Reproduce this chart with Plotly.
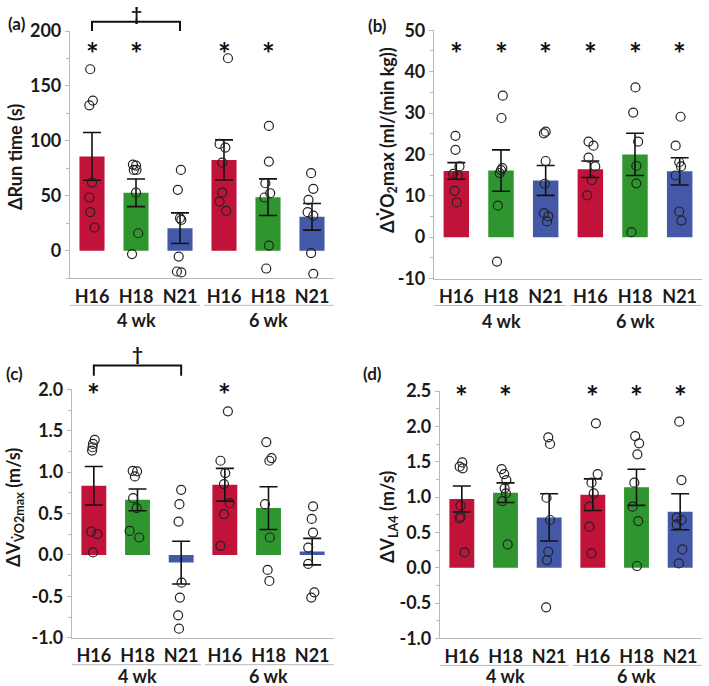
import plotly.graph_objects as go

W, H = 709, 686

# ---------------- data ----------------
categories = ["H16", "H18", "N21", "H16", "H18", "N21"]
week_groups = ["4 wk", "6 wk"]
bar_colors = ["#C1123A", "#2F962F", "#4458A8", "#C1123A", "#2F962F", "#4458A8"]

# (a) delta run time (s)
run_mean = [85.9, 52.8, 20.6, 82.7, 48.8, 30.9]
run_se = [21.7, 12.6, 13.9, 18.2, 16.7, 12.1]
run_points = [
    [165.2, 136.7, 132.4, 62.1, 48.5, 35.2, 21.2],
    [78.5, 77.6, 73.6, 73.6, 53.0, 16.0, -3.0],
    [73.6, 55.5, 29.7, 28.2, -5.2, -18.8, -19.7],
    [175.2, 97.3, 93.9, 80.3, 53.0, 44.8, 36.4],
    [113.6, 81.2, 61.5, 52.4, 48.5, 4.8, -16.1],
    [70.6, 56.4, 46.4, 35.2, 32.1, -2.1, -20.9],
]
run_jitter = [
    [-0.04, 0.02, -0.06, 0.0, -0.06, -0.04, 0.06],
    [-0.07, 0.0, -0.05, 0.01, 0.0, 0.05, -0.09],
    [0.02, -0.05, 0.0, 0.03, -0.03, -0.07, 0.03],
    [0.09, -0.10, 0.03, -0.04, -0.04, -0.10, 0.05],
    [0.02, 0.02, -0.06, 0.05, -0.08, 0.02, -0.04],
    [-0.02, 0.03, -0.08, -0.10, 0.03, -0.02, 0.03],
]
run_sig = [True, True, False, True, True, False]
run_ticks = [0, 50, 100, 150, 200]
run_ticktext = ["0", "50", "100", "150", "200"]

# (b) delta VO2max (ml/(min kg))
vo2_mean = [16.0, 16.1, 13.7, 16.4, 20.0, 15.9]
vo2_se = [2.0, 5.0, 3.6, 2.0, 5.1, 3.3]
vo2_points = [
    [24.5, 21.1, 17.1, 15.3, 14.9, 11.2, 8.4],
    [34.2, 28.8, 16.7, 16.2, 15.5, 7.6, -5.9],
    [25.5, 25.1, 18.4, 12.9, 5.8, 5.0, 3.8],
    [23.1, 22.1, 19.2, 17.1, 13.8, 10.1],
    [36.2, 30.1, 23.1, 17.2, 13.0, 1.2],
    [29.1, 22.1, 18.1, 17.1, 14.9, 6.2, 4.0],
]
vo2_jitter = [
    [-0.02, -0.02, 0.07, -0.07, 0.03, -0.04, 0.01],
    [0.04, 0.01, 0.03, 0.0, -0.03, -0.07, -0.09],
    [0.0, -0.04, 0.0, -0.02, -0.04, 0.06, 0.03],
    [-0.04, 0.07, -0.04, 0.11, 0.03, -0.07],
    [0.01, -0.04, 0.07, 0.03, 0.03, -0.08],
    [0.02, -0.09, -0.01, 0.03, -0.09, -0.01, 0.04],
]
vo2_sig = [True, True, True, True, True, True]
vo2_ticks = [-10, 0, 10, 20, 30, 40, 50]
vo2_ticktext = ["-10", "0", "10", "20", "30", "40", "50"]

# (c) delta V at VO2max (m/s)
vv_mean = [0.835, 0.665, -0.093, 0.847, 0.565, 0.04]
vv_se = [0.232, 0.131, 0.258, 0.198, 0.258, 0.16]
vv_points = [
    [1.39, 1.34, 1.30, 1.26, 0.28, 0.25, 0.03],
    [1.016, 1.008, 0.948, 0.685, 0.565, 0.29, 0.21],
    [0.786, 0.613, 0.403, -0.335, -0.516, -0.73, -0.891],
    [1.734, 1.137, 0.988, 0.855, 0.625, 0.492, 0.109],
    [1.363, 1.169, 1.137, 0.613, 0.21, -0.181, -0.315],
    [0.585, 0.435, 0.27, 0.089, -0.109, -0.452, -0.516],
]
vv_jitter = [
    [0.02, -0.02, -0.03, -0.04, -0.06, 0.08, -0.02],
    [-0.11, -0.01, -0.06, -0.10, -0.02, -0.18, 0.04],
    [0.0, -0.04, -0.06, 0.01, -0.03, -0.07, -0.05],
    [0.07, -0.10, 0.01, -0.02, 0.11, -0.02, -0.10],
    [-0.05, 0.07, 0.02, -0.08, 0.03, -0.02, 0.02],
    [0.02, -0.01, 0.02, -0.09, -0.09, 0.05, -0.02],
]
vv_sig = [True, False, False, True, False, False]
vv_ticks = [-1.0, -0.5, 0.0, 0.5, 1.0, 1.5, 2.0]
vv_ticktext = ["-1.0", "-0.5", "0.0", "0.5", "1.0", "1.5", "2.0"]

# (d) delta V at LA4 (m/s)
la_mean = [0.972, 1.061, 0.712, 1.033, 1.137, 0.792]
la_se = [0.184, 0.139, 0.335, 0.224, 0.255, 0.255]
la_points = [
    [1.49, 1.43, 1.406, 0.877, 0.722, 0.70, 0.217],
    [1.396, 1.325, 1.24, 1.123, 1.052, 0.943, 0.33],
    [1.844, 1.75, 0.99, 0.675, 0.226, 0.108, -0.561],
    [2.042, 1.325, 1.203, 1.052, 0.863, 0.58, 0.203],
    [1.863, 1.76, 1.604, 1.203, 0.863, 0.66, 0.024],
    [2.066, 1.24, 0.708, 0.675, 0.613, 0.259, 0.061],
]
la_jitter = [
    [0.01, -0.05, 0.02, -0.03, -0.03, -0.05, 0.06],
    [-0.09, -0.03, 0.02, -0.02, 0.01, -0.07, 0.05],
    [-0.02, 0.02, -0.06, 0.02, -0.02, -0.05, -0.07],
    [0.07, 0.11, -0.03, 0.02, -0.08, -0.08, -0.03],
    [-0.03, 0.06, 0.02, -0.05, -0.09, 0.04, 0.01],
    [-0.02, 0.03, -0.08, 0.03, -0.08, 0.05, -0.03],
]
la_sig = [True, True, False, True, True, True]
la_ticks = [-1.0, -0.5, 0.0, 0.5, 1.0, 1.5, 2.0, 2.5]
la_ticktext = ["-1.0", "-0.5", "0.0", "0.5", "1.0", "1.5", "2.0", "2.5"]

# ---------------- layout config ----------------
FONT = "Lato"
TXT = "#1a1a1a"
AXC = "#b8b8b8"
FS = 18

panels = [
    dict(n="", box=(70, 334, 31, 278.3), rng=[-25, 200], minor=25,
         mean=run_mean, se=run_se, pts=run_points, jit=run_jitter, sig=run_sig,
         tv=run_ticks, tt=run_ticktext, star=184.8, grp_off=42,
         title="ΔRun time (s)", title_xy=(15, 157), label="(a)", label_xy=(17, 24),
         bracket=(208.5, 200, 219.5)),
    dict(n="2", box=(434, 702, 30.3, 278.5), rng=[-10, 50], minor=5,
         mean=vo2_mean, se=vo2_se, pts=vo2_points, jit=vo2_jitter, sig=vo2_sig,
         tv=vo2_ticks, tt=vo2_ticktext, star=45.8, grp_off=42,
         title="ΔV\u0307O<sub>2</sub>max (ml/(min kg))", title_xy=(387, 140),
         label="(b)", label_xy=(378, 25), bracket=None),
    dict(n="3", box=(72, 334, 389.3, 637.7), rng=[-1.0, 2.0], minor=0.25,
         mean=vv_mean, se=vv_se, pts=vv_points, jit=vv_jitter, sig=vv_sig,
         tv=vv_ticks, tt=vv_ticktext, star=2.0, grp_off=38,
         title="ΔV<sub>V\u0307O2max</sub> (m/s)", title_xy=(14, 508),
         label="(c)", label_xy=(15, 373), bracket=(2.286, 2.165, 2.46)),
    dict(n="4", box=(440, 702, 391, 638.4), rng=[-1.0, 2.5], minor=0.25,
         mean=la_mean, se=la_se, pts=la_points, jit=la_jitter, sig=la_sig,
         tv=la_ticks, tt=la_ticktext, star=2.5, grp_off=38,
         title="ΔV<sub>LA4</sub> (m/s)", title_xy=(388, 517),
         label="(d)", label_xy=(372, 373), bracket=None),
]

fig = go.Figure()
shapes = []
annotations = []
layout = dict(
    width=W, height=H, margin=dict(l=0, r=0, t=0, b=0, autoexpand=False),
    paper_bgcolor="white", plot_bgcolor="white", showlegend=False,
)


def paper_x(p, xv):
    x0, x1, _, _ = p["box"]
    px = x0 + (xv + 0.5) / 6.0 * (x1 - x0)
    return px / W


def paper_y(p, v):
    _, _, y0, y1 = p["box"]
    r0, r1 = p["rng"]
    px = y1 - (v - r0) / (r1 - r0) * (y1 - y0)
    return 1 - px / H


def ann(**kw):
    kw.setdefault("showarrow", False)
    kw.setdefault("xanchor", "center")
    kw.setdefault("yanchor", "middle")
    annotations.append(kw)


for p in panels:
    n = p["n"]
    xa, ya = "x" + n, "y" + n
    x0, x1, y0, y1 = p["box"]
    fig.add_trace(go.Bar(
        x=list(range(6)), y=p["mean"], width=0.57,
        marker=dict(color=bar_colors, line=dict(width=0)),
        error_y=dict(type="data", array=p["se"], visible=True,
                     color="#111111", thickness=1.6, width=9),
        xaxis=xa, yaxis=ya, hoverinfo="skip",
    ))
    xs, ys = [], []
    for i, (vals, jit) in enumerate(zip(p["pts"], p["jit"])):
        for v, j in zip(vals, jit):
            xs.append(i + j)
            ys.append(v)
    fig.add_trace(go.Scatter(
        x=xs, y=ys, mode="markers",
        marker=dict(symbol="circle-open", size=9, color="#222222",
                    line=dict(width=1.2, color="#222222")),
        xaxis=xa, yaxis=ya, cliponaxis=False, hoverinfo="skip",
    ))
    # significance asterisks
    for i, s in enumerate(p["sig"]):
        if s:
            ann(x=i, y=p["star"], xref=xa, yref=ya, text="<b>*</b>",
                font=dict(family=FONT, size=30, color="#111"), yshift=-5)
    # axes
    layout["xaxis" + n] = dict(
        domain=[x0 / W, x1 / W], anchor=ya, range=[-0.5, 5.5],
        tickvals=list(range(6)), ticktext=categories, ticks="",
        ticklabelstandoff=2,
        showline=True, linecolor=AXC, linewidth=1.2, showgrid=False,
        zeroline=False, fixedrange=True, automargin=False,
        tickfont=dict(family=FONT, size=FS, color=TXT, weight="bold"),
    )
    layout["yaxis" + n] = dict(
        domain=[1 - y1 / H, 1 - y0 / H], anchor=xa, range=p["rng"],
        tickvals=p["tv"], ticktext=p["tt"], ticks="outside", ticklen=4,
        tickcolor=AXC, tickwidth=1,
        minor=dict(ticks="outside", ticklen=3, tickcolor=AXC, dtick=p["minor"],
                   tick0=0, showgrid=False),
        showline=True, linecolor=AXC, linewidth=1.2, showgrid=False,
        zeroline=False, fixedrange=True, automargin=False,
        tickfont=dict(family=FONT, size=FS, color=TXT, weight="bold"),
    )
    # axis title
    tx, ty = p["title_xy"]
    ann(x=tx / W, y=1 - ty / H, xref="paper", yref="paper", text=p["title"],
        textangle=-90, font=dict(family=FONT, size=FS, color=TXT, weight="bold"))
    # panel label
    lx, ly = p["label_xy"]
    ann(x=lx / W, y=1 - ly / H, xref="paper", yref="paper", text=p["label"],
        font=dict(family=FONT, size=17, color=TXT, weight="bold"))
    # week group separators and labels
    yb = 1 - (y1 + 27) / H
    for g, (a, b) in enumerate([(-0.5, 2.45), (2.55, 5.5)]):
        shapes.append(dict(type="line", xref="paper", yref="paper",
                           x0=paper_x(p, a), x1=paper_x(p, b), y0=yb, y1=yb,
                           line=dict(color=AXC, width=1)))
        ann(x=1 + 3 * g, y=1 - (y1 + p["grp_off"]) / H, xref=xa, yref="paper",
            text=week_groups[g],
            font=dict(family=FONT, size=FS, color=TXT, weight="bold"))
    # bracket with dagger
    if p["bracket"]:
        top, leg, dag = p["bracket"]
        xl, xr = paper_x(p, 0), paper_x(p, 2)
        yt, yl = paper_y(p, top), paper_y(p, leg)
        shapes.append(dict(type="path", xref="paper", yref="paper",
                           path=f"M{xl},{yl} L{xl},{yt} L{xr},{yt} L{xr},{yl}",
                           line=dict(color="#111", width=2)))
        ann(x=1, y=min(paper_y(p, dag) + 11 / H, 1.0), xref=xa, yref="paper",
            text="<b>†</b>", yanchor="top",
            font=dict(family=FONT, size=19, color="#111"))

layout["shapes"] = shapes
layout["annotations"] = annotations
fig.update_layout(**layout)
fig.write_html(
    "out.html",
    config={"displayModeBar": False},
    post_script="document.body.style.margin='0';document.body.style.padding='0';",
)
